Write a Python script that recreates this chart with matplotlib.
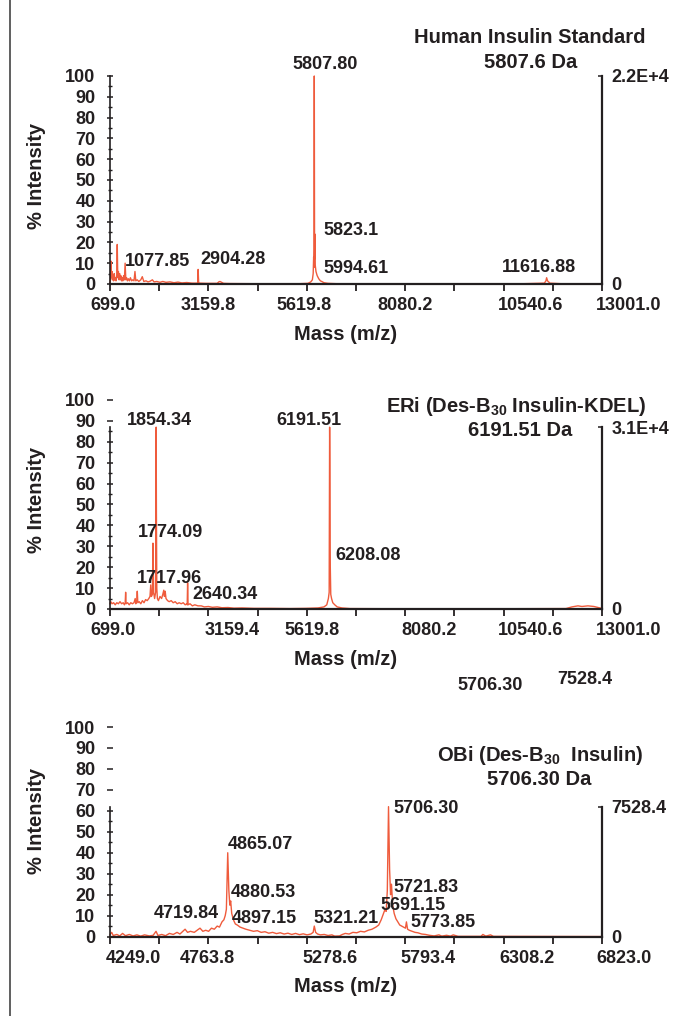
import matplotlib
matplotlib.use('Agg')
import matplotlib.pyplot as plt
from matplotlib.lines import Line2D
from matplotlib.ticker import FixedLocator

plt.rcParams['font.family'] = ['Liberation Sans', 'DejaVu Sans']
plt.rcParams['font.weight'] = 'bold'
plt.rcParams['axes.labelweight'] = 'bold'
plt.rcParams['mathtext.fontset'] = 'custom'
plt.rcParams['mathtext.rm'] = 'Liberation Sans:bold'
plt.rcParams['mathtext.bf'] = 'Liberation Sans:bold'

# ---- data (mass, % intensity) ----
# Human insulin standard
top_mz = [699, 712, 725, 738, 750, 762, 775, 790, 805, 820, 835, 850, 868, 881, 894, 910, 925,
          940, 955, 970, 990, 1005, 1020, 1040, 1060, 1078, 1096, 1115, 1135, 1160, 1185, 1210,
          1240, 1270, 1300, 1324, 1345, 1380, 1420, 1470, 1507, 1545, 1600, 1650, 1700, 1760,
          1800, 1870, 1950, 2020, 2100, 2200, 2300, 2400, 2500, 2620, 2750, 2880, 2893, 2904,
          2916, 2950, 3100, 3380, 3420, 3450, 3490, 3540, 3700, 4500, 5400, 5650, 5720, 5760,
          5780, 5792, 5800, 5807.8, 5815, 5823.1, 5832, 5850, 5880, 5920, 5960, 5995, 6050,
          6150, 6400, 8000, 11000, 11560, 11600, 11617, 11640, 11700, 12000, 13001]
top_int = [0.5, 2, 11, 3, 6, 2, 4, 1.5, 5, 2, 3, 1.5, 4, 19, 3, 6, 2,
           5, 2, 4, 1.5, 3, 1.5, 4, 2, 10, 2, 3, 1.5, 2.5, 1.5, 3,
           1.5, 2, 1.5, 6, 1.5, 2, 1.2, 2, 3.5, 1.2, 1.5, 1, 1.3, 2,
           1, 1.2, 0.8, 1.2, 0.8, 1, 0.6, 0.9, 0.5, 0.7, 0.4, 0.4, 0.6, 7,
           0.6, 0.4, 0.3, 0.3, 1, 1.2, 0.8, 0.3, 0.2, 0.1, 0.1, 0.3, 1, 2,
           5, 13, 8, 100, 12, 24, 9, 6, 4, 2.5, 1.5, 1.2, 0.6,
           0.3, 0.1, 0.1, 0.1, 0.4, 1.5, 3, 1.5, 0.4, 0.1, 0.1]

# ERi (Des-B30 insulin-KDEL)
mid_mz = [699, 720, 750, 790, 830, 870, 910, 950, 990, 1030, 1060, 1080, 1091, 1102, 1140, 1180,
          1220, 1260, 1300, 1330, 1345, 1370, 1382, 1395, 1430, 1470, 1510, 1550, 1590, 1630,
          1670, 1700, 1718, 1735, 1760, 1774, 1790, 1815, 1840, 1854.3, 1860, 1870, 1885, 1910,
          1950, 1990, 2020, 2045, 2060, 2080, 2100, 2140, 2180, 2230, 2280, 2330, 2380, 2430,
          2480, 2530, 2580, 2620, 2630, 2640.3, 2652, 2700, 2760, 2820, 2900, 2980, 3060, 3160,
          3260, 3380, 3500, 3650, 3800, 4000, 4300, 4700, 5200, 5600, 5900, 6050, 6120, 6160,
          6180, 6191.5, 6196, 6208.1, 6220, 6240, 6270, 6320, 6380, 6500, 6700, 8000, 10000,
          12100, 12250, 12400, 12500, 12650, 12800, 12950, 13001]
mid_int = [2.5, 3.5, 2.5, 3, 2, 3, 2.5, 3.5, 2.5, 3, 2, 3, 8, 2.5, 3, 2,
           3, 2.5, 3, 5, 2.5, 4, 8.5, 3, 3.5, 2.5, 4, 3, 4.5, 4,
           5, 6, 11.5, 6, 7, 31.5, 8, 5, 8, 87, 47, 10, 5, 4,
           6, 5, 7, 9, 6, 8.5, 5, 4, 3.5, 4, 3, 3.5, 2.5, 3,
           2.5, 3, 2, 2.5, 2, 12.5, 2, 2.5, 1.5, 2, 1.5, 1.5, 1, 1.2,
           0.8, 1, 0.6, 0.7, 0.4, 0.5, 0.3, 0.3, 0.2, 0.3, 0.5, 1, 2, 5,
           8, 87, 72, 20, 7, 5, 3, 2, 1, 0.5, 0.2, 0.1, 0.1,
           0.2, 1, 1.5, 1.2, 1.5, 1.2, 0.5, 0.3]

# OBi (Des-B30 insulin)
bot_mz = [4249, 4258, 4266, 4285, 4300, 4315, 4330, 4350, 4370, 4390, 4410, 4430, 4455, 4475,
          4490, 4500, 4520, 4540, 4560, 4580, 4600, 4615, 4630, 4642, 4655, 4670, 4690, 4705,
          4720, 4735, 4750, 4765, 4780, 4795, 4810, 4822, 4835, 4845, 4852, 4858, 4865.1, 4871,
          4876, 4880.5, 4886, 4892, 4897.2, 4905, 4915, 4930, 4945, 4960, 4980, 5000, 5020,
          5040, 5060, 5080, 5100, 5120, 5140, 5160, 5180, 5200, 5220, 5240, 5260, 5280, 5300,
          5312, 5318, 5325, 5335, 5350, 5370, 5390, 5410, 5425, 5450, 5465, 5480, 5500, 5520,
          5540, 5560, 5580, 5600, 5620, 5640, 5655, 5668, 5680, 5688, 5694, 5700, 5706.3, 5712,
          5717, 5721.8, 5728, 5736, 5745, 5755, 5765, 5775, 5785, 5795, 5800, 5806, 5815, 5830,
          5845, 5860, 5880, 5900, 5920, 5945, 5970, 5985, 6010, 6030, 6045, 6070, 6190, 6200,
          6215, 6240, 6255, 6823]
bot_int = [0.8, 2, 0.5, 1, 0.3, 1.5, 0.4, 1, 0.3, 0.8, 0.2, 0.8, 0.3, 0.6,
           2.5, 0.5, 1, 0.4, 1.5, 1, 2, 1.2, 2.5, 3.5, 2, 2.5, 2, 3,
           4, 2.5, 3, 2.5, 4, 3.5, 5, 4.5, 7, 8, 10, 13, 40, 22,
           15, 17, 11, 9, 7.5, 6, 5.5, 4.5, 4, 3.5, 3, 2.5, 2.8,
           2, 2.3, 1.6, 2, 1.4, 1.8, 1.2, 1.6, 1, 1.5, 0.9, 1.3, 0.8, 1.2,
           2, 5, 2, 1.2, 0.8, 1, 0.5, 0.8, 0.2, 0.3, 1, 1.5, 1.2, 2,
           1.8, 2.5, 2.2, 3, 3.5, 4.5, 5.5, 8, 11, 13, 12, 22, 62, 32,
           20, 25, 15, 11, 8.5, 7, 5.5, 5, 4.5, 4, 7, 3.5, 3, 2.5,
           2, 1.8, 1.2, 1, 0.6, 0.3, 0.8, 0.2, 0.6, 0.2, 0.8, 0.1, 0.1, 1,
           0.2, 0.8, 0.1, 0]

# axis ranges, tick labels and annotations
top_range = (699.0, 13001.0)
mid_range = (699.0, 13001.0)
bot_range = (4249.0, 6823.0)
top_xlabels = ['699.0', '3159.8', '5619.8', '8080.2', '10540.6', '13001.0']
mid_xlabels = ['699.0', '3159.4', '5619.8', '8080.2', '10540.6', '13001.0']
bot_xlabels = ['4249.0', '4763.8', '5278.6', '5793.4', '6308.2', '6823.0']
top_max = 100
mid_max = 87
bot_max = 62
top_right = '2.2E+4'
mid_right = '3.1E+4'
bot_right = '7528.4'
top_title = ['Human Insulin Standard', '5807.6 Da']
mid_title = ['ERi (Des-B$_{30}$ Insulin-KDEL)', '6191.51 Da']
bot_title = ['OBi (Des-B$_{30}$  Insulin)', '5706.30 Da']
top_peaks = ['5807.80', '5823.1', '5994.61', '1077.85', '2904.28', '11616.88']
mid_peaks = ['1854.34', '6191.51', '1774.09', '6208.08', '1717.96', '2640.34']
bot_peaks = ['5706.30', '4865.07', '4880.53', '4719.84', '4897.15', '5321.21',
             '5721.83', '5691.15', '5773.85']

# label placement (mass, % intensity of the left/centre of each label)
top_peak_pos = [(5250, 105.3), (6025, 25.5), (6025, 7.2), (1074, 11), (2949, 12), (10500, 7.7)]
mid_peak_pos = [(1124, 90.4), (4850, 90.4), (1399, 36.8), (6325, 25.8), (1374, 14.8), (2749, 6.7)]
bot_peak_pos = [(5730, 61.3), (4866, 43.7), (4882, 20.8), (4479, 11.2), (4887, 8.4),
                (5311, 8.8), (5730, 23.2), (5662, 14.6), (5819, 6.9)]
top_xoff = [3, 0, -3, 0, 27, 27]
mid_xoff = [3, 24, 5, 24, 27, 27]
bot_xoff = [23, -1, 23, 23, 23, 22]
top_title_pos = [(0.854, 1.183), (0.854, 1.063)]
mid_title_pos = [(0.825, 0.971), (0.833, 0.852)]
bot_title_pos = [(0.874, 0.866), (0.872, 0.752)]
top_ylab_y = 0.52
mid_ylab_y = 0.52
bot_ylab_y = 0.55

red = '#EF5B3C'
ink = '#231F20'
fs = 13

fig = plt.figure(figsize=(6.86, 10.16), dpi=100)
fig.add_artist(Line2D([0.0146, 0.0146], [0, 1], transform=fig.transFigure, color='#444444', lw=1.2))

panels = [
    ([0.1603, 0.7205, 0.7172, 0.2047], top_mz, top_int, top_range, top_xlabels, top_xoff, top_max,
     top_right, top_title, top_title_pos, top_peaks, top_peak_pos, top_ylab_y),
    ([0.1603, 0.4006, 0.7172, 0.2057], mid_mz, mid_int, mid_range, mid_xlabels, mid_xoff, mid_max,
     mid_right, mid_title, mid_title_pos, mid_peaks, mid_peak_pos, mid_ylab_y),
    ([0.1603, 0.0782, 0.7172, 0.2062], bot_mz, bot_int, bot_range, bot_xlabels, bot_xoff, bot_max,
     bot_right, bot_title, bot_title_pos, bot_peaks, bot_peak_pos, bot_ylab_y),
]

for rect, mz, inten, xr, xlabels, xoff, ymax, rlab, title, tpos, peaks, ppos, ylab_y in panels:
    ax = fig.add_axes(rect)
    ax.plot(mz, inten, color=red, lw=1.0, clip_on=False)
    ax.set_xlim(xr)
    ax.set_ylim(0, 100)

    for s in ['top', 'right']:
        ax.spines[s].set_visible(False)
    ax.spines['bottom'].set_linewidth(1.6)
    ax.spines['bottom'].set_color(ink)
    ax.spines['left'].set_linewidth(1.2)
    ax.spines['left'].set_color(ink)
    ax.spines['left'].set_bounds(0, ymax)

    # y axis: labels 0..100, marks only along the drawn spine
    ax.set_yticks(range(0, 101, 10))
    ax.yaxis.set_minor_locator(FixedLocator([v for v in range(5, 101, 10) if v <= ymax]))
    ax.tick_params(axis='y', which='major', direction='inout', length=5, width=1.1,
                   color=ink, labelsize=fs, labelcolor=ink, pad=8)
    ax.tick_params(axis='y', which='minor', direction='inout', length=3, width=1.0, color=ink)
    for t in ax.yaxis.get_major_ticks():
        if t.get_loc() > ymax:
            t.tick1line.set_visible(False)

    # x axis: 5 intervals with a minor tick in each, labels placed by hand
    step = (xr[1] - xr[0]) / 5
    majors = [xr[0] + k * step for k in range(6)]
    ax.set_xticks(majors)
    ax.set_xticklabels([''] * 6)
    ax.xaxis.set_minor_locator(FixedLocator([m + step / 2 for m in majors[:-1]]))
    ax.tick_params(axis='x', which='both', direction='out', length=5, width=1.3, color=ink)
    for m, lab, dx in zip(majors, xlabels, xoff):
        ax.annotate(lab, xy=(m, 0), xycoords=('data', 'axes fraction'), xytext=(dx, -22),
                    textcoords='offset pixels', ha='center', va='center',
                    fontsize=fs, color=ink, annotation_clip=False)

    ax.set_ylabel('% Intensity', fontsize=14.5, color=ink, fontweight='bold')
    ax.yaxis.set_label_coords(-0.13, ylab_y)
    ax.set_xlabel('Mass (m/z)', fontsize=14.5, color=ink, fontweight='bold')
    ax.xaxis.set_label_coords(0.478, -0.195)

    # right-hand absolute intensity scale
    ax2 = ax.twinx()
    ax2.set_ylim(0, 100)
    for s in ['top', 'left', 'bottom']:
        ax2.spines[s].set_visible(False)
    ax2.spines['right'].set_bounds(0, ymax)
    ax2.spines['right'].set_linewidth(1.6)
    ax2.spines['right'].set_color(ink)
    ax2.set_yticks([0, ymax])
    ax2.set_yticklabels(['0', rlab])
    ax2.tick_params(axis='y', direction='in', length=3, width=1.1, color=ink,
                    labelsize=fs, labelcolor=ink, pad=7)

    for (x, y), line in zip(tpos, title):
        ax.text(x, y, line, transform=ax.transAxes, ha='center', va='center',
                fontsize=14.5, color=ink)
    for lab, (x, y) in zip(peaks, ppos):
        ax.text(x, y, lab, ha='left', va='center', fontsize=fs, color=ink)

# stray labels sitting between the lower two panels
fig.text(490 / 686, 1 - 685 / 1016, '5706.30', ha='center', va='center', fontsize=fs, color=ink)
fig.text(585 / 686, 1 - 679 / 1016, '7528.4', ha='center', va='center', fontsize=fs, color=ink)

fig.savefig('out.png', dpi=100)
